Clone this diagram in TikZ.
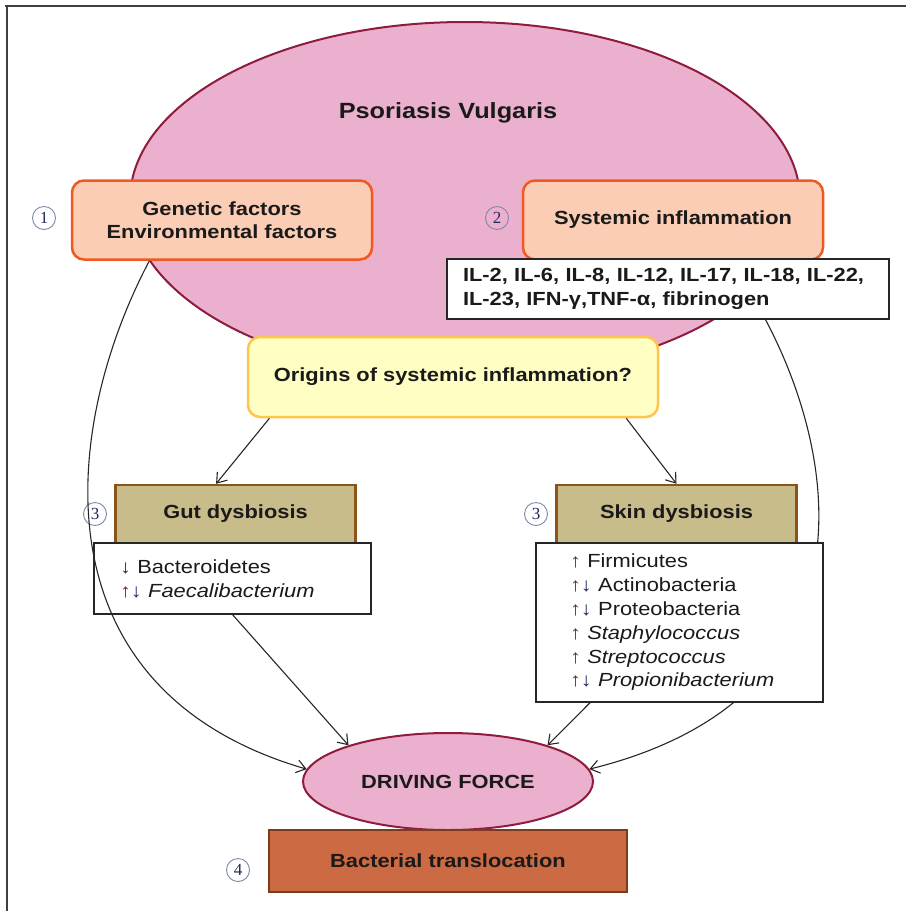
\documentclass[tikz,border=0pt]{standalone}
\usepackage{fontspec}
\setmainfont{Liberation Sans}[FakeStretch=1.15]
\newfontfamily\numfont{Liberation Serif}
\usetikzlibrary{calc,shapes.geometric,arrows.meta}

\definecolor{txtblack}{HTML}{1A1A1A}
\definecolor{pinkfill}{HTML}{EBB0CE}
\definecolor{pinkline}{HTML}{8E1C3C}
\definecolor{peachfill}{HTML}{FBCDB4}
\definecolor{peachline}{HTML}{F05A22}
\definecolor{yelfill}{HTML}{FFFFC4}
\definecolor{yelline}{HTML}{FFC54A}
\definecolor{khakifill}{HTML}{C8BC8A}
\definecolor{khakiline}{HTML}{8B5418}
\definecolor{terrafill}{HTML}{CC6A44}
\definecolor{terraline}{HTML}{7B3B1E}
\definecolor{numline}{HTML}{7A8AA8}
\definecolor{arrnavy}{HTML}{1F2A5A}
\definecolor{arrred}{HTML}{6A2A3A}

\newcommand{\incr}{\textcolor{arrred}{\bfseries ↑}}
\newcommand{\decr}{\textcolor{arrnavy}{\bfseries ↓}}

\begin{document}
\begin{tikzpicture}[x=1pt,y=-1pt,
    every node/.style={text=txtblack},
    hdr/.style={font=\fontsize{19}{23}\selectfont\bfseries, align=center},
    peachbox/.style={hdr, draw=peachline, fill=peachfill, line width=2.5pt, rounded corners=12pt, minimum width=300pt, minimum height=79pt},
    khakibox/.style={hdr, draw=khakiline, fill=khakifill, line width=2.5pt, minimum width=240pt, minimum height=58pt},
    listbox/.style={draw=black!85, fill=white, line width=1.2pt, align=left},
    pinkell/.style={ellipse, draw=pinkline, fill=pinkfill, line width=2pt, inner sep=0pt},
    num/.style={circle, draw=numline, line width=0.9pt, minimum size=23pt, inner sep=0pt, font=\numfont\fontsize{17}{17}\selectfont, text=arrnavy},
    arr/.style={draw=black!85, line width=1.1pt, -{Straight Barb[length=9pt,width=13pt]}}]

\useasboundingbox (0,0) rectangle (906,911);

% frame
\draw[line width=2pt, black!75] (5,6) -- (906,6);
\draw[line width=2pt, black!75] (7,6) -- (7,911);

% disease
\node[pinkell, minimum width=670pt, minimum height=356pt] (psor) at (465,200) {};
\node[font=\fontsize{22}{22}\selectfont\bfseries] (ptitle) at (448,113) {Psoriasis Vulgaris};

\node[peachbox] (genbox) at (222,220) {Genetic factors\\Environmental factors};
\node[peachbox] (sysbox) at (673,220) {Systemic inflammation};
\node[listbox, font=\fontsize{19}{23.5}\selectfont\bfseries, inner xsep=16pt, text width=410pt, minimum height=60pt] (ilbox) at (668,289)
    {IL-2, IL-6, IL-8, IL-12, IL-17, IL-18, IL-22,\\IL-23, IFN-γ,TNF-α, fibrinogen};

\node[hdr, draw=yelline, fill=yelfill, line width=2.5pt, rounded corners=12pt, minimum width=410pt, minimum height=80pt] (origin) at (453,377) {Origins of systemic inflammation?};

% gut
\node[khakibox] (gut) at (235.5,514) {Gut dysbiosis};
\node[listbox, font=\fontsize{19}{24}\selectfont, inner xsep=26pt, text width=225pt, minimum height=71pt] (gutlist) at (232.5,578.5)
    {\decr{} Bacteroidetes\\\incr\decr{} \textit{Faecalibacterium}};

% outcome
\node[pinkell, hdr, minimum width=290pt, minimum height=97pt] (drive) at (448,781.5) {DRIVING FORCE};
\node[hdr, draw=terraline, fill=terrafill, line width=2.5pt, minimum width=358pt, minimum height=62pt] (bact) at (448,861) {Bacterial translocation};

% numbers
\node[num] (n1) at (44,218) {1};
\node[num] (n2) at (497,218) {2};
\node[num] (n3a) at (95,514) {3};
\node[num] (n3b) at (536,514) {3};
\node[num] (n4) at (238,870) {4};

% long curves
\draw[arr] ($(genbox.south west)!0.26!(genbox.south east)$) .. controls (60,430) and (35,690) .. (drive.175);
\draw[arr] ($(ilbox.south west)!0.72!(ilbox.south east)$) .. controls (845,470) and (870,700) .. (drive.5);

% skin
\node[khakibox] (skin) at (676.5,514) {Skin dysbiosis};
\node[listbox, font=\fontsize{19}{23.8}\selectfont, inner xsep=34pt, text width=219pt, minimum height=159pt] (skinlist) at (679.5,622.5)
    {\incr{} Firmicutes\\
     \incr\decr{} Actinobacteria\\
     \incr\decr{} Proteobacteria\\
     \incr{} \textit{Staphylococcus}\\
     \incr{} \textit{Streptococcus}\\
     \incr\decr{} \textit{Propionibacterium}};

% arrows
\draw[arr] ($(origin.south west)!0.055!(origin.south east)$) -- ($(gut.north west)!0.42!(gut.north east)$);
\draw[arr] ($(origin.south west)!0.92!(origin.south east)$) -- (skin.north);
\draw[arr] (gutlist.south) -- (drive.160);
\draw[arr] ($(skinlist.south west)!0.19!(skinlist.south east)$) -- (drive.20);

\end{tikzpicture}
\end{document}
